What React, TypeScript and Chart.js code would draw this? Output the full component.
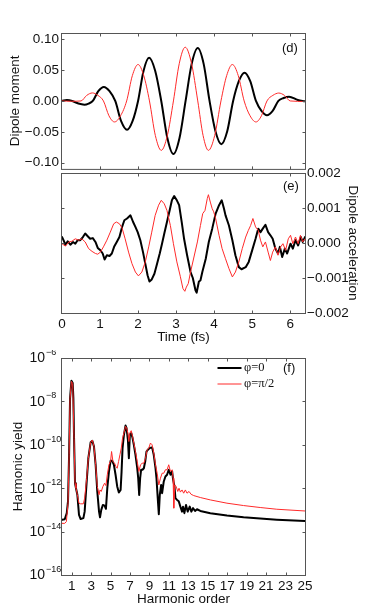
import React, { useEffect, useRef } from 'react';
import { Chart, registerables } from 'chart.js';

Chart.register(...registerables);

// ---------------- data ----------------
type Pt = [number, number];

const timeTicks = [0, 1, 2, 3, 4, 5, 6];
const dipoleTicks = [-0.1, -0.05, 0, 0.05, 0.1];
const accelTicks = [-0.002, -0.001, 0, 0.001, 0.002];
const orderTicks = [1, 3, 5, 7, 9, 11, 13, 15, 17, 19, 21, 23, 25];
const yieldExponentTicks = [-16, -14, -12, -10, -8, -6];

const seriesLabels = { black: 'φ=0', red: 'φ=π/2' };

// (d) dipole moment
const dipoleTimesBlack = [0, 0.13, 0.27, 0.43, 0.59, 0.7, 0.81, 0.955, 1.1, 1.25, 1.4, 1.555, 1.71, 1.855, 2.0, 2.145, 2.29, 2.45, 2.61, 2.77, 2.93, 3.09, 3.25, 3.41, 3.57, 3.725, 3.88, 4.035, 4.19, 4.345, 4.5, 4.65, 4.8, 4.95, 5.1, 5.245, 5.39, 5.54, 5.69, 5.83, 5.97, 6.2, 6.39];
const dipoleBlack = [0.0005, 0.0016, 0, -0.0042, -0.006, -0.0042, 0, 0.0159, 0.0227, 0.0159, 0, -0.0327, -0.0467, -0.0327, 0, 0.049, 0.07, 0.049, 0, -0.06, -0.086, -0.06, 0, 0.06, 0.0856, 0.06, 0, -0.049, -0.07, -0.049, 0, 0.032, 0.0457, 0.032, 0, -0.016, -0.023, -0.016, 0, 0.0048, 0.0069, 0.0015, -0.0005];
const dipoleTimesRed = [0, 0.25, 0.5, 0.65, 0.8, 0.945, 1.09, 1.235, 1.38, 1.54, 1.7, 1.85, 2.0, 2.15, 2.3, 2.455, 2.61, 2.77, 2.93, 3.085, 3.24, 3.405, 3.57, 3.71, 3.85, 4.015, 4.18, 4.33, 4.48, 4.635, 4.79, 4.945, 5.1, 5.245, 5.39, 5.545, 5.7, 5.85, 6.0, 6.39];
const dipoleRed = [0, -0.0005, 0, 0.009, 0.013, 0.009, 0, -0.024, -0.034, -0.024, 0, 0.041, 0.059, 0.041, 0, -0.056, -0.08, -0.056, 0, 0.061, 0.087, 0.061, 0, -0.056, -0.08, -0.056, 0, 0.041, 0.059, 0.041, 0, -0.024, -0.034, -0.024, 0, 0.009, 0.0128, 0.009, 0, -0.0008];

// (e) dipole acceleration, values in units of 0.001
const ACCEL_UNIT = 0.001;
const accelBlack: Pt[] = [
  [0.0, 0.17], [0.04, 0.08], [0.09, -0.05], [0.15, 0.05], [0.22, -0.05], [0.29, 0.03], [0.35, -0.02], [0.41, 0.08],
  [0.48, 0.08], [0.55, 0.17], [0.61, 0.27], [0.67, 0.2], [0.74, 0.12], [0.81, 0.14], [0.88, 0.03], [0.94, -0.14],
  [1.01, -0.21], [1.07, -0.3], [1.12, -0.47], [1.18, -0.35], [1.25, -0.37], [1.31, -0.3], [1.37, -0.11], [1.44, 0.03],
  [1.51, 0.17], [1.58, 0.46], [1.64, 0.65], [1.71, 0.7], [1.8, 0.79], [1.87, 0.6], [1.93, 0.46], [1.99, 0.31],
  [2.06, 0.08], [2.13, -0.26], [2.19, -0.59], [2.25, -0.92], [2.3, -1.1], [2.36, -1.04], [2.43, -0.88], [2.5, -0.59],
  [2.57, -0.3], [2.63, -0.02], [2.69, 0.27], [2.76, 0.6], [2.83, 0.93], [2.89, 1.22], [2.95, 1.34], [3.02, 1.22],
  [3.08, 1.08], [3.15, 0.58], [3.21, 0.12], [3.29, -0.35], [3.38, -0.83], [3.44, -1.0], [3.51, -1.35], [3.54, -1.42],
  [3.6, -1.1], [3.64, -1.07], [3.69, -0.83], [3.78, -0.45], [3.86, 0.03], [3.95, 0.41], [4.04, 0.84], [4.13, 1.08],
  [4.2, 1.22], [4.26, 0.98], [4.3, 0.79], [4.39, 0.5], [4.48, 0.08], [4.56, -0.35], [4.65, -0.69], [4.72, -0.75],
  [4.83, -0.69], [4.91, -0.54], [5.0, -0.21], [5.09, 0.12], [5.16, 0.41], [5.22, 0.31], [5.28, 0.41], [5.35, 0.52],
  [5.42, 0.31], [5.48, 0.22], [5.54, 0.12], [5.61, -0.16], [5.68, -0.3], [5.73, -0.11], [5.79, -0.4], [5.86, -0.16],
  [5.92, -0.3], [6.01, -0.02], [6.07, -0.16], [6.14, 0.08], [6.21, -0.07], [6.28, 0.17], [6.33, 0.03], [6.39, 0.17],
];
const accelRed: Pt[] = [
  [0.0, -0.02], [0.09, -0.09], [0.18, 0.03], [0.26, 0.05], [0.35, 0.12], [0.44, 0.08], [0.52, 0.12], [0.61, 0.03],
  [0.7, -0.16], [0.79, -0.24], [0.88, -0.3], [0.94, -0.32], [1.01, -0.26], [1.09, -0.11], [1.18, 0.08], [1.27, 0.31],
  [1.36, 0.55], [1.43, 0.6], [1.51, 0.55], [1.58, 0.43], [1.66, 0.12], [1.75, -0.26], [1.84, -0.59], [1.93, -0.83],
  [2.01, -0.94], [2.1, -0.83], [2.19, -0.54], [2.28, -0.11], [2.36, 0.31], [2.45, 0.79], [2.54, 1.08], [2.61, 1.22],
  [2.69, 1.12], [2.76, 0.93], [2.85, 0.5], [2.93, -0.02], [3.02, -0.54], [3.11, -0.95], [3.18, -1.3], [3.23, -1.38],
  [3.27, -1.26], [3.32, -1.16], [3.38, -0.83], [3.47, -0.4], [3.56, 0.03], [3.64, 0.5], [3.7, 0.84], [3.76, 0.93],
  [3.82, 1.27], [3.85, 1.38], [3.9, 1.17], [3.95, 0.98], [3.99, 0.89], [4.04, 0.7], [4.13, 0.22], [4.21, -0.16],
  [4.3, -0.45], [4.39, -0.73], [4.48, -0.97], [4.56, -0.83], [4.65, -0.54], [4.74, -0.16], [4.83, 0.17], [4.9, 0.36],
  [4.96, 0.5], [5.02, 0.7], [5.09, 0.46], [5.16, 0.36], [5.22, 0.08], [5.28, -0.11], [5.35, 0.03], [5.42, -0.26],
  [5.48, -0.5], [5.54, -0.26], [5.61, -0.11], [5.68, -0.35], [5.75, -0.11], [5.81, -0.02], [5.88, -0.21], [5.95, 0.12],
  [6.01, 0.22], [6.07, -0.02], [6.14, 0.17], [6.21, -0.02], [6.27, 0.22], [6.33, 0.03], [6.39, 0.12],
];

// (f) harmonic yield: [harmonic order, log10(yield)]
const harmonicBlack: Pt[] = [
  [0.0, -13.46], [0.28, -13.43], [0.49, -13.15], [0.62, -12.6], [0.73, -10.46], [0.83, -7.85], [0.97, -7.05], [1.1, -7.15],
  [1.17, -7.85], [1.24, -9.7], [1.34, -11.77], [1.44, -12.0], [1.58, -12.3], [1.75, -13.23], [1.92, -13.42], [2.2, -13.38],
  [2.33, -13.08], [2.54, -11.69], [2.71, -10.62], [2.95, -9.88], [3.12, -9.82], [3.29, -10.08], [3.46, -10.92], [3.63, -12.15],
  [3.81, -13.08], [3.91, -13.34], [4.04, -13.0], [4.21, -12.77], [4.38, -12.8], [4.52, -12.95], [4.66, -12.0], [4.83, -11.23],
  [5.0, -10.74], [5.17, -10.74], [5.34, -10.92], [5.51, -11.38], [5.68, -11.92], [5.85, -12.2], [6.03, -12.08], [6.13, -11.23],
  [6.23, -10.15], [6.37, -9.54], [6.54, -9.11], [6.64, -9.23], [6.78, -9.77], [6.88, -10.62], [6.98, -9.54], [7.12, -9.46],
  [7.26, -9.69], [7.39, -10.0], [7.56, -10.46], [7.74, -11.08], [7.84, -11.54], [7.94, -12.31], [8.04, -11.54], [8.14, -11.15],
  [8.28, -11.15], [8.42, -11.08], [8.56, -10.77], [8.69, -10.31], [8.83, -10.23], [9.03, -10.15], [9.27, -10.12], [9.44, -10.46],
  [9.62, -11.08], [9.72, -11.54], [9.85, -12.46], [9.96, -13.2], [10.06, -12.31], [10.2, -11.85], [10.3, -12.23], [10.47, -11.69],
  [10.64, -11.46], [10.81, -11.38], [10.98, -11.15], [11.16, -11.38], [11.33, -11.23], [11.43, -11.6], [11.57, -11.92], [11.67, -12.46],
  [11.84, -12.54], [12.01, -12.6], [12.18, -12.85], [12.35, -13.08], [12.45, -12.85], [12.59, -13.15], [12.76, -12.77], [12.93, -13.08],
  [13.14, -12.85], [13.31, -13.08], [13.48, -12.92], [13.69, -13.05], [13.89, -12.97], [14.23, -13.05], [15.26, -13.15], [16.97, -13.26],
  [18.68, -13.34], [20.39, -13.4], [22.1, -13.45], [25.0, -13.51],
];
const harmonicRed: Pt[] = [
  [0.0, -13.62], [0.28, -13.62], [0.45, -13.54], [0.62, -12.7], [0.73, -10.46], [0.83, -7.85], [0.97, -7.08], [1.1, -7.18],
  [1.24, -9.7], [1.34, -11.77], [1.44, -12.0], [1.58, -12.3], [1.75, -12.7], [1.92, -12.72], [2.2, -12.72], [2.33, -12.46],
  [2.54, -11.54], [2.71, -10.62], [2.95, -9.88], [3.12, -9.78], [3.29, -10.08], [3.46, -10.92], [3.63, -11.92], [3.81, -12.3],
  [3.91, -12.08], [4.04, -12.15], [4.21, -11.92], [4.38, -11.77], [4.52, -11.88], [4.66, -11.38], [4.83, -10.92], [5.0, -10.74],
  [5.1, -10.31], [5.24, -10.77], [5.41, -10.85], [5.55, -11.0], [5.68, -11.08], [5.82, -10.77], [5.96, -10.46], [6.1, -10.15],
  [6.23, -9.69], [6.37, -9.46], [6.54, -9.15], [6.64, -9.2], [6.78, -9.46], [6.88, -9.85], [6.98, -9.46], [7.12, -9.35],
  [7.26, -9.62], [7.39, -9.92], [7.56, -10.31], [7.74, -10.77], [7.91, -11.23], [8.08, -10.92], [8.25, -10.85], [8.42, -10.85],
  [8.59, -10.62], [8.76, -10.23], [8.93, -10.15], [9.1, -9.92], [9.27, -10.0], [9.44, -10.38], [9.62, -10.92], [9.79, -11.31],
  [9.96, -11.85], [10.13, -11.54], [10.3, -11.31], [10.47, -11.31], [10.64, -11.15], [10.81, -11.15], [10.98, -10.92], [11.16, -11.23],
  [11.33, -11.15], [11.43, -11.54], [11.5, -12.92], [11.6, -11.85], [11.74, -11.92], [11.91, -12.15], [12.04, -12.0], [12.18, -12.18],
  [12.35, -12.08], [12.52, -12.23], [12.69, -12.08], [12.86, -12.23], [13.07, -12.15], [13.28, -12.28], [13.55, -12.34], [14.23, -12.43],
  [15.26, -12.54], [16.97, -12.69], [18.68, -12.8], [20.39, -12.89], [22.1, -12.97], [25.0, -13.05],
];

// ---------------- styles ----------------
const W = 374;
const SANS = "'Liberation Sans', Arial, Helvetica, sans-serif";
const SERIF = "'Liberation Serif', 'Times New Roman', serif";
const BLACK = '#000000';
const RED = '#ff2a2a';
const FRAME = '#555555';
const TEXT = '#111111';
const TICK_FONT = { family: SANS, size: 13.5 };
const TITLE_FONT = { family: SANS, size: 13.5 };
const TICK_LEN = 3;

const fmt = (v: number, d: number) => (v < -1e-12 ? '\u2212' : '') + Math.abs(v).toFixed(d);
const zip = (xs: number[], ys: number[]) => xs.map((x, i) => ({ x, y: ys[i] }));

type FrameCfg = {
  xTicks: number[];
  yTicks: number[];
  yId: string;
  label: string;
  labelDx: number;
  labelDy: number;
  legend?: boolean;
  decadeLabels?: number[];
};

function makeFrame(cfg: FrameCfg) {
  return {
    id: 'frame',
    afterDatasetsDraw(chart: any) {
      const { ctx, chartArea } = chart;
      const { left, right, top, bottom } = chartArea;
      const xs = chart.scales.x;
      const ys = chart.scales[cfg.yId];
      ctx.save();
      ctx.strokeStyle = FRAME;
      ctx.lineWidth = 1;
      const L = left - 0.5, R = right + 0.5, T = top + 0.5, B = bottom + 0.5;
      ctx.strokeRect(L, T, R - L, B - T);
      ctx.beginPath();
      for (const v of cfg.xTicks) {
        const px = Math.round(xs.getPixelForValue(v)) + 0.5;
        if (px <= L + 1 || px >= R - 1) continue;
        ctx.moveTo(px, B);
        ctx.lineTo(px, B - TICK_LEN);
        ctx.moveTo(px, T);
        ctx.lineTo(px, T + TICK_LEN);
      }
      for (const v of cfg.yTicks) {
        const py = Math.round(ys.getPixelForValue(v)) + 0.5;
        if (py <= T + 1 || py >= B - 1) continue;
        ctx.moveTo(L, py);
        ctx.lineTo(L + TICK_LEN, py);
        ctx.moveTo(R, py);
        ctx.lineTo(R - TICK_LEN, py);
      }
      ctx.stroke();

      // panel label
      ctx.fillStyle = TEXT;
      ctx.font = `13px ${SANS}`;
      ctx.textAlign = 'left';
      ctx.textBaseline = 'middle';
      ctx.fillText(cfg.label, right + cfg.labelDx, top + cfg.labelDy);

      // decade tick labels with superscript exponents
      if (cfg.decadeLabels) {
        for (const e of cfg.decadeLabels) {
          const py = ys.getPixelForValue(Math.pow(10, e));
          ctx.font = `14px ${SANS}`;
          ctx.textAlign = 'left';
          ctx.textBaseline = 'middle';
          ctx.fillText('10', 29.5, py + 0.5);
          ctx.font = `9px ${SANS}`;
          ctx.fillText((e < 0 ? '\u2212' : '') + Math.abs(e), 46, py - 5.5);
        }
      }

      // legend
      if (cfg.legend) {
        const ds = chart.data.datasets.slice().reverse();
        ds.forEach((d: any, i: number) => {
          const y = top + 10 + i * 16;
          ctx.strokeStyle = d.borderColor;
          ctx.lineWidth = d.borderWidth;
          ctx.beginPath();
          ctx.moveTo(right - 87.5, y);
          ctx.lineTo(right - 63.5, y);
          ctx.stroke();
          ctx.fillStyle = TEXT;
          ctx.font = `12.5px ${SERIF}`;
          ctx.textAlign = 'left';
          ctx.textBaseline = 'middle';
          ctx.fillText(d.label, right - 61, y);
        });
      }
      ctx.restore();
    },
  };
}

const baseOptions: any = {
  responsive: false,
  maintainAspectRatio: false,
  animation: false,
  events: [],
  plugins: { legend: { display: false }, tooltip: { enabled: false } },
  elements: { point: { radius: 0 }, line: { borderJoinStyle: 'round', borderCapStyle: 'round' } },
};

const noGrid = { display: false, drawTicks: false };
const noBorder = { display: false };

function configD(): any {
  return {
    type: 'line',
    data: {
      datasets: [
        { label: seriesLabels.red, data: zip(dipoleTimesRed, dipoleRed), borderColor: RED, borderWidth: 1, cubicInterpolationMode: 'monotone' },
        { label: seriesLabels.black, data: zip(dipoleTimesBlack, dipoleBlack), borderColor: BLACK, borderWidth: 2, cubicInterpolationMode: 'monotone' },
      ],
    },
    options: {
      ...baseOptions,
      layout: { padding: { left: 0, top: 33, right: 69, bottom: 7 } },
      scales: {
        x: { type: 'linear', min: 0, max: 6.39, display: false },
        y: {
          type: 'linear', position: 'left', min: -0.11, max: 0.11,
          afterBuildTicks: (s: any) => { s.ticks = dipoleTicks.map((v) => ({ value: v })); },
          afterFit: (s: any) => { s.width = 62; },
          grid: noGrid, border: noBorder,
          ticks: { padding: 3, color: TEXT, font: TICK_FONT, callback: (v: number) => fmt(v, 2) },
          title: { display: true, text: 'Dipole moment', color: TEXT, font: TITLE_FONT, padding: { top: 7, bottom: 0 } },
        },
      },
    },
    plugins: [makeFrame({ xTicks: timeTicks, yTicks: dipoleTicks, yId: 'y', label: '(d)', labelDx: -23, labelDy: 15 })],
  };
}

function configE(): any {
  return {
    type: 'line',
    data: {
      datasets: [
        { label: seriesLabels.red, data: accelRed.map(([x, y]) => ({ x, y: y * ACCEL_UNIT })), borderColor: RED, borderWidth: 1, tension: 0 },
        { label: seriesLabels.black, data: accelBlack.map(([x, y]) => ({ x, y: y * ACCEL_UNIT })), borderColor: BLACK, borderWidth: 2, tension: 0 },
      ],
    },
    options: {
      ...baseOptions,
      layout: { padding: { left: 62, top: 23, right: 0, bottom: 0 } },
      scales: {
        x: {
          type: 'linear', position: 'bottom', min: 0, max: 6.39,
          afterBuildTicks: (s: any) => { s.ticks = timeTicks.map((v) => ({ value: v })); },
          afterFit: (s: any) => { s.height = 37; },
          grid: noGrid, border: noBorder,
          ticks: { padding: 3, color: TEXT, font: TICK_FONT, maxRotation: 0, callback: (v: number) => String(v) },
          title: { display: true, text: 'Time (fs)', color: TEXT, font: TITLE_FONT, padding: { top: 0, bottom: 4.4 } },
        },
        y: {
          type: 'linear', position: 'right', min: -0.002, max: 0.002,
          afterBuildTicks: (s: any) => { s.ticks = accelTicks.map((v) => ({ value: v })); },
          afterFit: (s: any) => { s.width = 69; },
          grid: noGrid, border: noBorder,
          ticks: { padding: 2, color: TEXT, font: TICK_FONT, callback: (v: number) => fmt(v, 3) },
          title: { display: true, text: 'Dipole acceleration', color: TEXT, font: TITLE_FONT, padding: { top: 13, bottom: 0 } },
        },
      },
    },
    plugins: [makeFrame({ xTicks: timeTicks, yTicks: accelTicks, yId: 'y', label: '(e)', labelDx: -22, labelDy: 13 })],
  };
}

function configF(): any {
  const toPts = (arr: Pt[]) => arr.map(([x, e]) => ({ x, y: Math.pow(10, e) }));
  return {
    type: 'line',
    data: {
      datasets: [
        { label: seriesLabels.red, data: toPts(harmonicRed), borderColor: RED, borderWidth: 1, tension: 0 },
        { label: seriesLabels.black, data: toPts(harmonicBlack), borderColor: BLACK, borderWidth: 2, tension: 0 },
      ],
    },
    options: {
      ...baseOptions,
      layout: { padding: { left: 0, top: 8, right: 69, bottom: 0 } },
      scales: {
        x: {
          type: 'linear', position: 'bottom', min: 0, max: 25,
          afterBuildTicks: (s: any) => { s.ticks = orderTicks.map((v) => ({ value: v })); },
          afterFit: (s: any) => { s.height = 35; },
          grid: noGrid, border: noBorder,
          ticks: { padding: 3.5, color: TEXT, font: TICK_FONT, maxRotation: 0, autoSkip: false, callback: (v: number) => String(v) },
          title: { display: true, text: 'Harmonic order', color: TEXT, font: TITLE_FONT, padding: { top: 0, bottom: 3 } },
        },
        y: {
          type: 'logarithmic', position: 'left', min: 1e-16, max: 1e-6,
          afterBuildTicks: (s: any) => { s.ticks = yieldExponentTicks.map((e) => ({ value: Math.pow(10, e) })); },
          afterFit: (s: any) => { s.width = 62; },
          grid: noGrid, border: noBorder,
          ticks: { display: false },
          title: { display: true, text: 'Harmonic yield', color: TEXT, font: TITLE_FONT, padding: { top: 10, bottom: 0 } },
        },
      },
    },
    plugins: [makeFrame({
      xTicks: orderTicks,
      yTicks: yieldExponentTicks.map((e) => Math.pow(10, e)),
      yId: 'y', label: '(f)', labelDx: -22, labelDy: 10, legend: true,
      decadeLabels: yieldExponentTicks,
    })],
  };
}

function Panel({ top, height, build }: { top: number; height: number; build: () => any }) {
  const ref = useRef<HTMLCanvasElement>(null);
  useEffect(() => {
    const chart = new Chart(ref.current as HTMLCanvasElement, build());
    return () => chart.destroy();
  }, []);
  return (
    <canvas
      ref={ref}
      width={W}
      height={height}
      style={{ position: 'absolute', left: 0, top, width: W, height, display: 'block' }}
    />
  );
}

export default function App() {
  return (
    <div style={{ position: 'fixed', left: 0, top: 0, width: W, height: 610, background: '#fff', overflow: 'hidden' }}>
      <Panel top={0} height={180} build={configD} />
      <Panel top={150} height={200} build={configE} />
      <Panel top={350} height={260} build={configF} />
    </div>
  );
}
